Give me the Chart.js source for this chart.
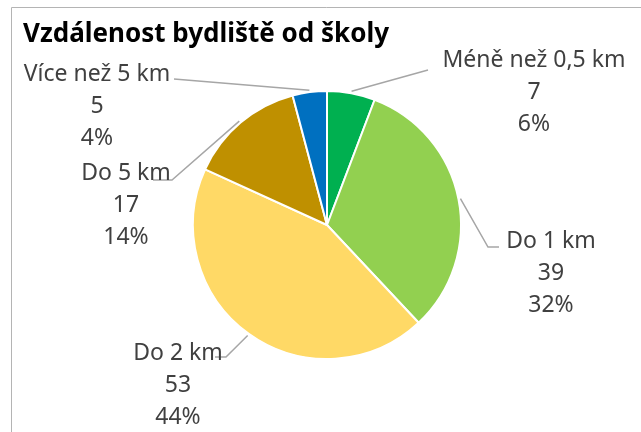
<!DOCTYPE html>
<html>
<head>
<meta charset="utf-8">
<script src="https://cdn.jsdelivr.net/npm/chart.js@4"></script>
<style>
  body { margin: 0; background: #fff; }
  #wrap { width: 641px; height: 432px; position: relative; }
</style>
</head>
<body>
<div id="wrap"><canvas id="pieChart" width="641" height="432"></canvas></div>
<script>
const chartTitle = 'Vzdálenost bydliště od školy';
const categories = ['Méně než 0,5 km', 'Do 1 km', 'Do 2 km', 'Do 5 km', 'Více než 5 km'];
const counts = [7, 39, 53, 17, 5];
const sliceColors = ['#00B050', '#92D050', '#FFD966', '#BF9000', '#0070C0'];

// where each callout sits (text centre x, first baseline y) and the bend of its leader line
const callouts = [
    { x: 534, y: 67, via: [[428, 70]] },
    { x: 551, y: 248, via: [[488, 247], [499, 247]] },
    { x: 178, y: 360, via: [[226, 357], [215, 357]] },
    { x: 126, y: 180, via: [[172, 180], [153, 180]] },
    { x: 97, y: 81, via: [[174, 79]] }
];

const labelFont = "23px 'Noto Sans', sans-serif";

const calloutPlugin = {
    id: 'callouts',
    beforeDraw(chart) {
        const c = chart.ctx;
        c.save();
        c.strokeStyle = '#b4b4b4';
        c.lineWidth = 1;
        c.beginPath();
        c.moveTo(11.5, 432);
        c.lineTo(11.5, 7.5);
        c.lineTo(641, 7.5);
        c.stroke();
        c.fillStyle = '#000';
        c.font = "bold 26px 'Noto Sans', sans-serif";
        c.textAlign = 'left';
        c.textBaseline = 'alphabetic';
        c.fillText(chartTitle, 23, 42);
        c.restore();
    },
    afterDatasetsDraw(chart) {
        const c = chart.ctx;
        const meta = chart.getDatasetMeta(0);
        const total = counts.reduce((a, b) => a + b, 0);
        c.save();
        meta.data.forEach((arc, i) => {
            const p = arc.getProps(['x', 'y', 'startAngle', 'endAngle', 'outerRadius'], true);
            const mid = (p.startAngle + p.endAngle) / 2;
            const r = p.outerRadius + 2;
            const co = callouts[i];
            c.strokeStyle = '#a6a6a6';
            c.lineWidth = 1.5;
            c.beginPath();
            c.moveTo(p.x + Math.cos(mid) * r, p.y + Math.sin(mid) * r);
            co.via.forEach(pt => c.lineTo(pt[0], pt[1]));
            c.stroke();

            const pct = Math.round(counts[i] / total * 100) + '%';
            c.fillStyle = '#404040';
            c.font = labelFont;
            c.textAlign = 'center';
            c.textBaseline = 'alphabetic';
            [categories[i], String(counts[i]), pct].forEach((t, k) => {
                c.fillText(t, co.x, co.y + k * 32);
            });
        });
        c.restore();
    }
};

new Chart(document.getElementById('pieChart').getContext('2d'), {
    type: 'pie',
    data: {
        labels: categories,
        datasets: [{
            data: counts,
            backgroundColor: sliceColors,
            borderColor: '#ffffff',
            borderWidth: 2
        }]
    },
    options: {
        responsive: false,
        animation: false,
        layout: { padding: { left: 192, right: 179, top: 90, bottom: 72 } },
        plugins: {
            legend: { display: false },
            tooltip: { enabled: false }
        }
    },
    plugins: [calloutPlugin]
});
</script>
</body>
</html>
